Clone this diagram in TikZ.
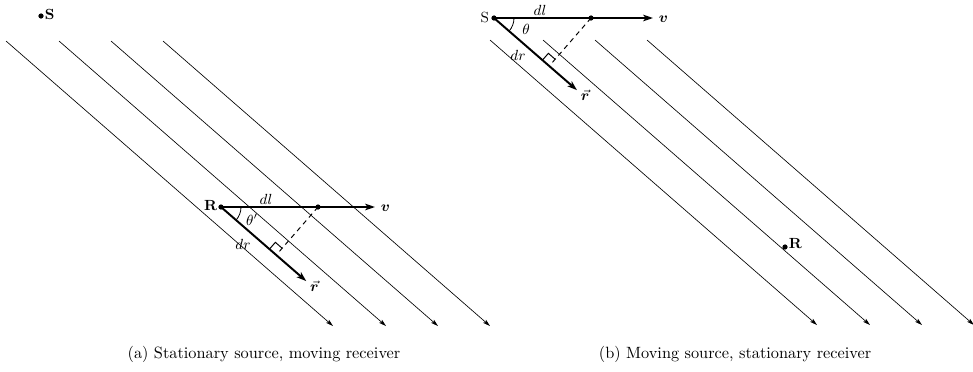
\documentclass[tikz,border=0pt]{standalone}
\usepackage{bm}
\usetikzlibrary{arrows.meta,calc}
\begin{document}
\begin{tikzpicture}[x=0.613pt,y=-0.613pt,
  wave/.style={line width=0.4pt,-{Stealth[length=4.5pt,width=2.6pt,inset=1pt]}},
  vec/.style={line width=1.2pt,-{Stealth[length=6pt,width=4pt,inset=1.5pt]}},
  dotm/.style={circle,fill=black,inner sep=0pt,minimum size=3.2pt},
  lab/.style={inner sep=1pt,font=\small},
  slab/.style={inner sep=1pt,font=\small},
  perp/.style={dashed,line width=0.6pt,dash pattern=on 3pt off 2.5pt},
  rmark/.style={line width=0.6pt}]
\useasboundingbox (0,0) rectangle (973,371);

% ---------- (a) ----------
\foreach \i/\x in {1/6,2/59,3/111,4/163}{
  \coordinate (a\i) at (\x,41);
  \coordinate (ae\i) at ($(a\i)+(327,285)$);
  \draw[wave] (a\i) -- (ae\i);
}
\node[dotm] (aS) at (41,16) {};
\node[lab,anchor=west] (aSl) at (43,14) {\textbf{S}};

\coordinate (aR) at (221,207);
\coordinate (aV) at (375,207);
\coordinate (aP) at (318,207);
\coordinate (aRt) at ($(aR)+(41:113)$);
\coordinate (aF) at ($(aR)+(41:73.2)$);
\draw[vec] (aR) -- (aV);
\draw[vec] (aR) -- (aRt);
\draw[perp] (aP) -- (aF);
\draw[rmark] ($(aF)+(41:-9)$) -- ++(-49:9) -- ++(41:9);
\draw[line width=0.5pt] ($(aR)+(20,0)$) arc[start angle=0,end angle=41,radius=20];
\node[dotm] (aRd) at (aR) {};
\node[dotm] (aPd) at (aP) {};
\node[lab,anchor=east] (aRl) at ($(aR)+(-2,-1)$) {\textbf{R}};
\node[slab] (adl) at (266,199) {$dl$};
\node[slab] (ath) at (252,220) {$\theta'$};
\node[slab] (adr) at (243,244) {$dr$};
\node[lab,anchor=west] (avl) at ($(aV)+(4,1)$) {$\bm{v}$};
\node[lab,anchor=north west] (arl) at ($(aRt)+(2,-2)$) {$\vec{\bm{r}}$};
\node[anchor=mid] (capa) at (264,355) {(a) Stationary source, moving receiver};

% ---------- (b) ----------
\foreach \i/\x in {1/490,2/543,3/595,4/647}{
  \coordinate (b\i) at (\x,40);
  \coordinate (be\i) at ($(b\i)+(327,285)$);
  \draw[wave] (b\i) -- (be\i);
}
\coordinate (bS) at (494,18);
\coordinate (bV) at (653,18);
\coordinate (bP) at (591,18);
\coordinate (bRt) at ($(bS)+(41:110)$);
\coordinate (bF) at ($(bS)+(41:73.2)$);
\draw[vec] (bS) -- (bV);
\draw[vec] (bS) -- (bRt);
\draw[perp] (bP) -- (bF);
\draw[rmark] ($(bF)+(41:-9)$) -- ++(-49:9) -- ++(41:9);
\draw[line width=0.5pt] ($(bS)+(20,0)$) arc[start angle=0,end angle=41,radius=20];
\node[dotm] (bSd) at (bS) {};
\node[dotm] (bPd) at (bP) {};
\node[lab,anchor=east] (bSl) at ($(bS)+(-3,-1)$) {S};
\node[slab] (bdl) at (540,10) {$dl$};
\node[slab] (bth) at (526,29) {$\theta$};
\node[slab] (bdr) at (518,55) {$dr$};
\node[lab,anchor=west] (bvl) at ($(bV)+(4,1)$) {$\bm{v}$};
\node[lab,anchor=north west] (brl) at ($(bRt)+(2,-2)$) {$\vec{\bm{r}}$};

\node[dotm] (bR) at (785,247) {};
\node[lab,anchor=west] (bRl) at (787,244) {\textbf{R}};
\node[anchor=mid east] (capb) at (877,355) {(b) Moving source, stationary receiver};
\end{tikzpicture}
\end{document}
